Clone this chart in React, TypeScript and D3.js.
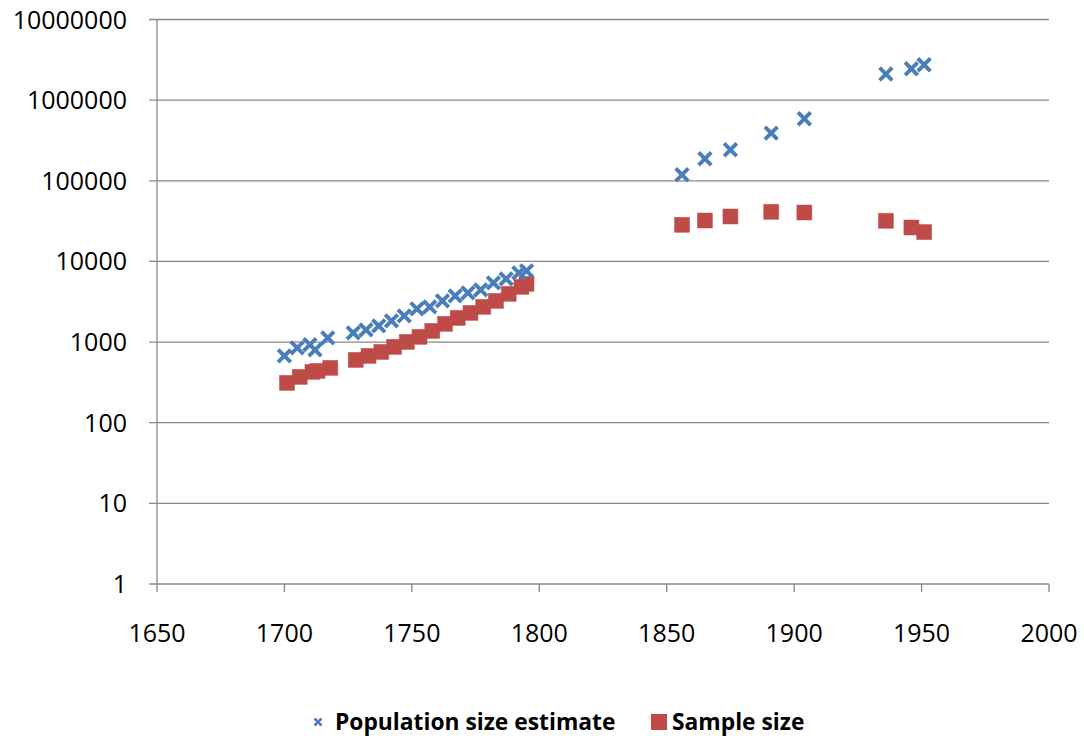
import React from "react";
import * as d3 from "d3";

const popYears = [1700, 1705, 1710, 1712, 1717, 1727, 1732, 1737, 1742, 1747, 1752, 1757, 1762, 1767, 1772, 1777, 1782, 1787, 1792, 1795, 1856, 1865, 1875, 1891, 1904, 1936, 1946, 1951];
const popValues = [674, 847, 930, 800, 1127, 1300, 1417, 1588, 1833, 2114, 2583, 2734, 3245, 3743, 4078, 4444, 5429, 6083, 7225, 7643, 118700, 187500, 242500, 390700, 587700, 2110000, 2450000, 2750000];

const sampleYears = [1701, 1706, 1711, 1713, 1718, 1728, 1733, 1738, 1743, 1748, 1753, 1758, 1763, 1768, 1773, 1778, 1783, 1788, 1793, 1795, 1856, 1865, 1875, 1891, 1904, 1936, 1946, 1951];
const sampleValues = [312, 370, 427, 439, 479, 601, 674, 755, 872, 1005, 1161, 1377, 1682, 1996, 2302, 2734, 3245, 3963, 4842, 5275, 28450, 32160, 36070, 41230, 40440, 31900, 26350, 23100];

const xTicks = [1650, 1700, 1750, 1800, 1850, 1900, 1950, 2000];
const yTicks = [1, 10, 100, 1000, 10000, 100000, 1000000, 10000000];

const seriesNames = ["Population size estimate", "Sample size"];

export default function App() {
  const W = 1084, H = 740;
  const left = 157, right = 1049, top = 19.5, bottom = 584;
  const x = d3.scaleLinear().domain([1650, 2000]).range([left, right]);
  const y = d3.scaleLog().domain([1, 1e7]).range([bottom, top]);
  const font = "'Open Sans', sans-serif";
  const grid = "#888888";
  const blue = "#4A7EBB";
  const red = "#BE4B48";
  const s = 6.3;
  const xPath = `M${-s},${-s}L${s},${s}M${-s},${s}L${s},${-s}`;
  const sq = 15;

  return (
    <svg width={W} height={H} style={{ position: "absolute", left: 0, top: 0, background: "#fff" }}>
      {yTicks.map((t) => (
        <g key={"y" + t}>
          <line x1={left - 8} x2={right} y1={y(t)} y2={y(t)} stroke={grid} strokeWidth={1.3} />
          <text x={127} y={y(t)} dy="0.36em" textAnchor="end" fontFamily={font} fontSize={25} fill="#000">
            {String(t)}
          </text>
        </g>
      ))}
      <line x1={left} x2={left} y1={top} y2={bottom} stroke={grid} strokeWidth={1.3} />
      {xTicks.map((t) => (
        <g key={"x" + t}>
          <line x1={x(t)} x2={x(t)} y1={bottom} y2={bottom + 8} stroke={grid} strokeWidth={1.3} />
          <text x={x(t)} y={633} dy="0.36em" textAnchor="middle" fontFamily={font} fontSize={25} fill="#000">
            {String(t)}
          </text>
        </g>
      ))}
      {sampleYears.map((yr, i) => (
        <rect key={"s" + i} x={x(yr) - sq / 2} y={y(sampleValues[i]) - sq / 2} width={sq} height={sq}
          fill={red} stroke="#B9504C" strokeOpacity={0.6} strokeWidth={0.8} />
      ))}
      {popYears.map((yr, i) => (
        <path key={"p" + i} d={xPath} transform={`translate(${x(yr)},${y(popValues[i])})`}
          stroke={blue} strokeWidth={3.9} fill="none" strokeLinecap="butt" />
      ))}
      <g>
        <path d="M-3.5,-3.5L3.5,3.5M-3.5,3.5L3.5,-3.5" transform="translate(318,722)" stroke={blue} strokeWidth={2.5} fill="none" />
        <text x={335} y={722} dy="0.36em" fontFamily={font} fontWeight="bold" fontSize={22.8} fill="#000">
          {seriesNames[0]}
        </text>
        <rect x={651} y={714} width={16} height={16} fill={red} />
        <text x={672} y={722} dy="0.36em" fontFamily={font} fontWeight="bold" fontSize={22.8} fill="#000">
          {seriesNames[1]}
        </text>
      </g>
    </svg>
  );
}
